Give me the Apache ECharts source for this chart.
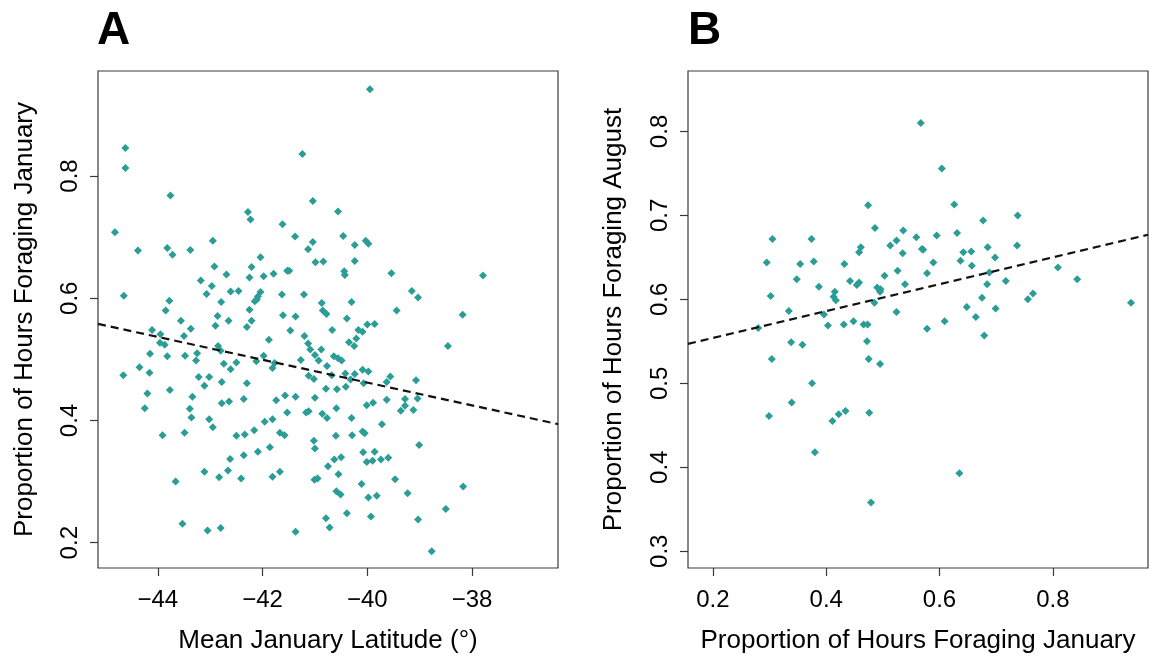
<!DOCTYPE html>
<html>
<head>
<meta charset="utf-8">
<title>Foraging proportion vs latitude</title>
<script src="https://cdn.jsdelivr.net/npm/echarts@6/dist/echarts.min.js"></script>
<style>
  html, body { margin: 0; padding: 0; background: #fff; }
  #chart { width: 1149px; height: 661px; }
</style>
</head>
<body>
<div id="chart"></div>
<script>
// Panel A: mean January latitude vs proportion of hours foraging in January
const latA = [
  -44.62,-44.62,-43.76,-41.24,-41.04,-42.28,-42.23,-41.62,-41.38,-44.82,
  -42.95,-41.04,-40.56,-39.95,-40.46,-40.03,-39.98,-44.38,-43.82,-43.72,
  -43.38,-41.13,-42.04,-40.99,-40.84,-42.92,-42.21,-42.69,-42.25,-41.98,
  -41.79,-41.53,-41.49,-43.18,-42.97,-43.07,-42.61,-42.46,-42.04,-42.09,
  -42.11,-42.15,-41.63,-41.21,-44.65,-43.78,-42.79,-40.87,-43.85,-42.25,
  -40.85,-40.78,-42.86,-43.56,-42.65,-42.21,-41.61,-41.37,-42.90,-42.30,
  -43.37,-41.47,-40.67,-44.11,-43.95,-43.50,-41.20,-41.88,-43.96,-43.87,
  -41.13,-42.85,-41.09,-40.88,-44.15,-43.82,-43.48,-43.25,-42.80,-41.00,
  -40.64,-41.98,-43.27,-42.74,-42.50,-42.12,-41.27,-40.93,-41.77,-41.81,
  -44.35,-44.16,-42.61,-40.77,-44.66,-43.22,-43.02,-41.12,-41.02,-40.68,
  -43.11,-42.78,-42.30,-40.79,-43.77,-44.20,-43.34,-42.78,-42.64,-42.36,
  -41.74,-41.57,-41.37,-41.00,-44.25,-43.39,-43.36,-43.02,-42.95,-41.17,
  -41.12,-41.53,-40.86,-40.77,-41.96,-41.81,-42.16,-42.50,-42.34,-41.67,
  -41.58,-43.91,-43.49,-40.60,-41.02,-41.00,-41.86,-42.09,-42.36,-42.62,
  -40.63,-40.75,-43.11,-42.66,-42.83,-42.41,-41.81,-41.67,-41.01,-40.95,
  -43.66,-40.59,-43.53,-43.05,-42.80,-41.37,-40.79,-40.72,-40.24,-40.24,
  -40.44,-40.43,-39.54,-37.79,-39.15,-39.03,-40.30,-39.44,-38.18,-40.39,
  -40.00,-39.86,-40.17,-40.09,-40.21,-40.35,-40.25,-38.46,-40.56,-40.49,
  -40.42,-40.24,-40.32,-40.09,-39.98,-40.07,-39.56,-39.63,-39.07,-40.58,
  -40.41,-39.63,-39.28,-39.28,-39.36,-39.12,-39.04,-40.01,-39.89,-40.59,
  -40.30,-39.72,-40.09,-40.05,-40.29,-39.01,-40.08,-39.86,-40.50,-40.01,
  -39.90,-39.74,-39.60,-40.55,-40.11,-39.47,-38.17,-40.51,-39.98,-39.82,
  -39.23,-40.39,-39.93,-38.50,-39.03,-38.77
];
const janA = [
  0.846,0.813,0.768,0.836,0.759,0.741,0.729,0.721,0.701,0.708,
  0.694,0.692,0.742,0.942,0.702,0.694,0.689,0.678,0.682,0.671,
  0.679,0.680,0.667,0.659,0.660,0.652,0.651,0.639,0.634,0.636,
  0.640,0.645,0.645,0.629,0.620,0.607,0.611,0.612,0.610,0.603,
  0.598,0.595,0.606,0.606,0.604,0.596,0.594,0.592,0.580,0.581,
  0.580,0.574,0.571,0.563,0.563,0.563,0.572,0.570,0.555,0.553,
  0.550,0.547,0.548,0.548,0.541,0.538,0.538,0.532,0.527,0.524,
  0.526,0.522,0.516,0.516,0.509,0.505,0.506,0.510,0.514,0.507,
  0.505,0.506,0.498,0.493,0.495,0.497,0.499,0.498,0.494,0.486,
  0.487,0.478,0.484,0.489,0.474,0.471,0.471,0.473,0.468,0.474,
  0.457,0.463,0.461,0.452,0.450,0.444,0.439,0.428,0.431,0.435,
  0.433,0.441,0.439,0.437,0.420,0.419,0.405,0.402,0.389,0.413,
  0.415,0.413,0.411,0.404,0.398,0.402,0.384,0.375,0.377,0.380,
  0.376,0.376,0.380,0.375,0.367,0.354,0.356,0.349,0.343,0.337,
  0.336,0.325,0.316,0.318,0.307,0.305,0.308,0.316,0.303,0.305,
  0.300,0.284,0.231,0.220,0.224,0.218,0.240,0.225,0.687,0.661,
  0.644,0.638,0.641,0.637,0.612,0.601,0.594,0.580,0.573,0.567,
  0.557,0.558,0.548,0.545,0.534,0.528,0.522,0.522,0.502,0.498,
  0.477,0.476,0.467,0.483,0.480,0.461,0.472,0.463,0.466,0.451,
  0.455,0.434,0.435,0.424,0.416,0.417,0.436,0.425,0.429,0.420,
  0.404,0.394,0.382,0.379,0.376,0.360,0.348,0.349,0.340,0.332,
  0.334,0.336,0.339,0.312,0.296,0.304,0.292,0.279,0.274,0.277,
  0.281,0.248,0.243,0.255,0.238,0.186
];

// Panel B: January vs August proportion of hours foraging
const janB = [
  0.567,0.474,0.486,0.536,0.559,0.305,0.374,0.461,0.458,0.513,
  0.524,0.535,0.295,0.354,0.378,0.432,0.526,0.503,0.348,0.442,
  0.458,0.454,0.539,0.387,0.490,0.496,0.495,0.415,0.413,0.417,
  0.604,0.626,0.677,0.738,0.595,0.631,0.569,0.571,0.589,0.578,
  0.637,0.642,0.656,0.685,0.698,0.737,0.657,0.688,0.684,0.717,
  0.809,0.843,0.675,0.648,0.664,0.699,0.756,0.765,0.938,0.578,
  0.609,0.679,0.635,0.302,0.334,0.396,0.485,0.524,0.280,0.403,
  0.431,0.448,0.466,0.473,0.338,0.358,0.472,0.304,0.475,0.495,
  0.375,0.339,0.299,0.411,0.422,0.434,0.476,0.380,0.479
];
const augB = [
  0.810,0.712,0.685,0.682,0.674,0.672,0.672,0.662,0.656,0.664,
  0.670,0.655,0.644,0.642,0.645,0.642,0.634,0.628,0.624,0.622,
  0.620,0.617,0.618,0.615,0.614,0.612,0.609,0.609,0.603,0.599,
  0.756,0.713,0.694,0.700,0.676,0.679,0.660,0.659,0.644,0.631,
  0.646,0.656,0.657,0.662,0.650,0.664,0.640,0.632,0.618,0.622,
  0.638,0.624,0.602,0.591,0.579,0.589,0.600,0.607,0.596,0.565,
  0.574,0.557,0.393,0.604,0.586,0.582,0.596,0.585,0.566,0.569,
  0.570,0.574,0.570,0.570,0.549,0.546,0.550,0.529,0.529,0.523,
  0.500,0.477,0.461,0.455,0.463,0.467,0.465,0.418,0.358
];

// Fitted regression lines (end points at the plot limits)
const fitAx = [-45.143, -36.358];
const fitAy = [0.558, 0.394];
const fitBx = [0.156, 0.968];
const fitBy = [0.547, 0.677];

// Axis limits and tick labels
const limAx = [-45.143, -36.358];
const limAy = [0.1586, 0.9718];
const limBx = [0.156, 0.968];
const limBy = [0.280, 0.872];
const ticksAx = [-44, -42, -40, -38];
const ticksAy = [0.2, 0.4, 0.6, 0.8];
const ticksBx = [0.2, 0.4, 0.6, 0.8];
const ticksBy = [0.3, 0.4, 0.5, 0.6, 0.7, 0.8];

const zip = (xs, ys) => xs.map((x, i) => [x, ys[i]]);

const FONT = "'Liberation Sans', Arial, Helvetica, sans-serif";
const POINT = '#2a9d96';
const FRAME = '#3a3a3a';

function xAxisCfg(grid, lim, ticks, name, fmt) {
  return {
    type: 'value', gridIndex: grid, min: lim[0], max: lim[1],
    splitLine: { show: false },
    axisLine: { show: false },
    axisTick: { show: true, inside: false, length: 8, customValues: ticks,
                lineStyle: { color: FRAME, width: 1.2 } },
    axisLabel: { customValues: ticks, formatter: fmt, margin: 20,
                 color: '#000', fontSize: 24, fontFamily: FONT },
    name: name, nameLocation: 'middle', nameGap: 60,
    nameTextStyle: { color: '#000', fontSize: 26, fontFamily: FONT }
  };
}
function yAxisCfg(grid, lim, ticks, name, gap) {
  return {
    type: 'value', gridIndex: grid, min: lim[0], max: lim[1],
    splitLine: { show: false },
    axisLine: { show: false },
    axisTick: { show: true, inside: false, length: 8, customValues: ticks,
                lineStyle: { color: FRAME, width: 1.2 } },
    axisLabel: { customValues: ticks, rotate: 90, margin: 16,
                 formatter: v => v.toFixed(1),
                 color: '#000', fontSize: 24, fontFamily: FONT },
    name: name, nameLocation: 'middle', nameGap: gap,
    nameTextStyle: { color: '#000', fontSize: 26, fontFamily: FONT }
  };
}

const chart = echarts.init(document.getElementById('chart'), null, { renderer: 'canvas' });
chart.setOption({
  animation: false,
  backgroundColor: '#fff',
  grid: [
    { left: 98, top: 71, width: 460, height: 497, show: true,
      borderColor: FRAME, borderWidth: 1.2, backgroundColor: 'transparent' },
    { left: 688, top: 71, width: 460, height: 497, show: true,
      borderColor: FRAME, borderWidth: 1.2, backgroundColor: 'transparent' }
  ],
  graphic: [
    { type: 'text', left: 97, top: 8,
      style: { text: 'A', font: 'bold 46px ' + FONT, fill: '#000' } },
    { type: 'text', left: 688, top: 8,
      style: { text: 'B', font: 'bold 46px ' + FONT, fill: '#000' } }
  ],
  xAxis: [
    xAxisCfg(0, limAx, ticksAx, 'Mean January Latitude (°)',
             v => (v < 0 ? '\u2212' : '') + Math.abs(v)),
    xAxisCfg(1, limBx, ticksBx, 'Proportion of Hours Foraging January',
             v => v.toFixed(1))
  ],
  yAxis: [
    yAxisCfg(0, limAy, ticksAy, 'Proportion of Hours Foraging January', 60),
    yAxisCfg(1, limBy, ticksBy, 'Proportion of Hours Foraging August', 61)
  ],
  series: [
    { type: 'scatter', xAxisIndex: 0, yAxisIndex: 0, data: zip(latA, janA),
      symbol: 'diamond', symbolSize: 8, itemStyle: { color: POINT, opacity: 1 } },
    { type: 'line', xAxisIndex: 0, yAxisIndex: 0, data: zip(fitAx, fitAy),
      showSymbol: false, symbol: 'none', z: 5,
      lineStyle: { color: '#111', width: 2.2, type: [8, 5] } },
    { type: 'scatter', xAxisIndex: 1, yAxisIndex: 1, data: zip(janB, augB),
      symbol: 'diamond', symbolSize: 8, itemStyle: { color: POINT, opacity: 1 } },
    { type: 'line', xAxisIndex: 1, yAxisIndex: 1, data: zip(fitBx, fitBy),
      showSymbol: false, symbol: 'none', z: 5,
      lineStyle: { color: '#111', width: 2.2, type: [8, 5] } }
  ]
});
</script>
</body>
</html>
